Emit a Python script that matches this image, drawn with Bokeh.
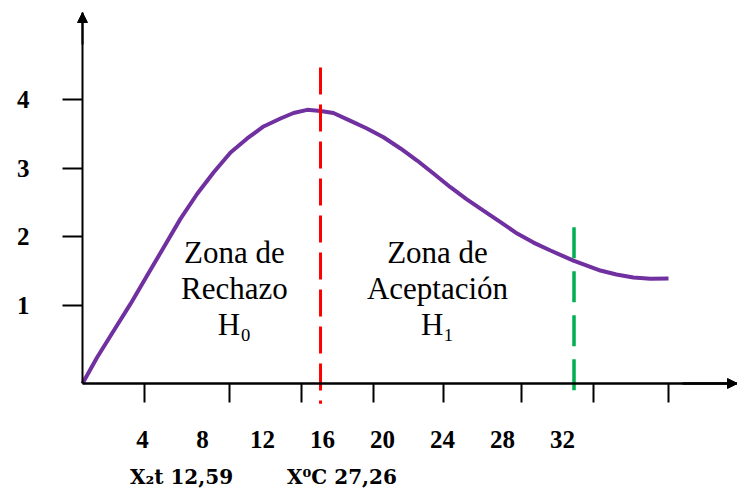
from bokeh.plotting import figure
from bokeh.models import (LinearAxis, FixedTicker, Range1d, Arrow, NormalHead)
from bokeh.core.properties import value
from bokeh.embed import file_html
from bokeh.resources import INLINE

# ---- data ----
curve_x = [0, 0.98, 2.09, 3.2, 4.31, 5.42, 6.53, 7.65, 8.75, 9.87, 10.98, 12.07,
           13.2, 14.07, 14.98, 15.87, 16.73, 17.87, 18.93, 20.07, 21.2, 22.31,
           23.4, 24.53, 25.6, 26.73, 27.87, 28.98, 30.07, 31.2, 32.73, 34.53,
           35.6, 36.73, 37.87, 39.07]
curve_y = [-0.135, 0.247, 0.636, 1.024, 1.437, 1.849, 2.262, 2.628, 2.942, 3.229,
           3.433, 3.608, 3.724, 3.804, 3.850, 3.833, 3.804, 3.69, 3.582, 3.450,
           3.287, 3.112, 2.923, 2.723, 2.551, 2.383, 2.215, 2.048, 1.917, 1.801,
           1.655, 1.51, 1.452, 1.408, 1.391, 1.394]

y_ticks = [1, 2, 3, 4]
x_tick_marks = [4.11, 9.78, 14.59, 19.4, 24.05, 29.27, 34.07, 39.07]
x_tick_labels = [4, 8, 12, 16, 20, 24, 28, 32]

red_x, red_top, red_bottom = 15.87, 4.466, -0.43
green_x, green_top, green_bottom = 32.77, 2.14, -0.25

zone_x = [10.13, 23.67]
zone_y = [1.25, 1.25]
zone_text = ["Zona de\nRechazo\nH\u2080", "Zona de\nAceptaci\u00f3n\nH\u2081"]

crit_x = [6.6, 17.3]
crit_text = ["X\u2082t 12,59", "X\u2070C 27,26"]

# axis geometry (data units)
AX_Y = -0.135      # where the x axis crosses
AX_TOP = 5.267     # tip of the y axis arrow
AX_RIGHT = 43.67   # tip of the x axis arrow

SERIF = "Liberation Serif"

p = figure(width=737, height=491, output_backend="svg", toolbar_location=None,
           x_range=Range1d(-5.467, 43.67), y_range=Range1d(-1.708, 5.442),
           min_border=0, x_axis_type=None, y_axis_type=None,
           background_fill_color="white", border_fill_color="white")
p.outline_line_color = None
p.grid.visible = False


def bare(axis):
    axis.minor_tick_out = 0
    axis.minor_tick_in = 0
    axis.major_tick_in = 0
    return axis


# y axis
ya = bare(LinearAxis(ticker=FixedTicker(ticks=y_ticks), fixed_location=0,
                     bounds=(AX_Y, AX_TOP)))
ya.axis_line_width = 2
ya.axis_line_color = "black"
ya.major_tick_out = 20
ya.major_tick_line_width = 2
ya.major_label_standoff = 33
ya.major_label_text_font = SERIF
ya.major_label_text_font_style = "bold"
ya.major_label_text_font_size = "25px"
ya.major_label_text_color = "black"
p.add_layout(ya, "left")

# x axis: line and tick marks
xa = bare(LinearAxis(ticker=FixedTicker(ticks=x_tick_marks), fixed_location=AX_Y,
                     bounds=(0, AX_RIGHT)))
xa.axis_line_width = 2.5
xa.axis_line_color = "black"
xa.major_tick_out = 19
xa.major_tick_line_width = 2
xa.major_label_overrides = {t: "" for t in x_tick_marks}
xa.major_label_text_font_size = "1px"
p.add_layout(xa, "below")

# x axis: number labels row
xb = bare(LinearAxis(ticker=FixedTicker(ticks=x_tick_labels), fixed_location=AX_Y))
xb.axis_line_color = None
xb.major_tick_line_color = None
xb.major_tick_out = 0
xb.major_label_standoff = 48
xb.major_label_text_font = SERIF
xb.major_label_text_font_style = "bold"
xb.major_label_text_font_size = "25px"
xb.major_label_text_color = "black"
p.add_layout(xb, "below")

# x axis: critical values row
xc = bare(LinearAxis(ticker=FixedTicker(ticks=crit_x), fixed_location=AX_Y))
xc.axis_line_color = None
xc.major_tick_line_color = None
xc.major_tick_out = 0
xc.major_label_overrides = dict(zip(crit_x, crit_text))
xc.major_label_standoff = 82
xc.major_label_text_font = "DejaVu Serif"
xc.major_label_text_font_style = "bold"
xc.major_label_text_font_size = "20px"
xc.major_label_text_color = "black"
p.add_layout(xc, "below")

# curve
p.line(curve_x, curve_y, line_color="#7030a0", line_width=4, line_join="round")

# dashed vertical lines
p.segment(x0=[red_x], y0=[red_top], x1=[red_x], y1=[red_bottom],
          line_color="#ff0000", line_width=3, line_dash="27 10")
p.segment(x0=[green_x], y0=[green_top], x1=[green_x], y1=[green_bottom],
          line_color="#00b050", line_width=3.5, line_dash="31 13")

# axis arrows
p.add_layout(Arrow(end=NormalHead(size=10, fill_color="black", line_color="black"),
                   x_start=0, y_start=4.8, x_end=0, y_end=AX_TOP, line_width=2))
p.add_layout(Arrow(end=NormalHead(size=10, fill_color="black", line_color="black"),
                   x_start=40, y_start=AX_Y, x_end=AX_RIGHT, y_end=AX_Y,
                   line_width=2.5))

# zone texts
p.text(x=zone_x, y=zone_y, text=zone_text, text_font=value(SERIF),
       text_font_size="31px", text_align="center", text_baseline="middle",
       text_line_height=1.02, text_color="black")

open("out.html", "w").write(file_html(p, INLINE))
